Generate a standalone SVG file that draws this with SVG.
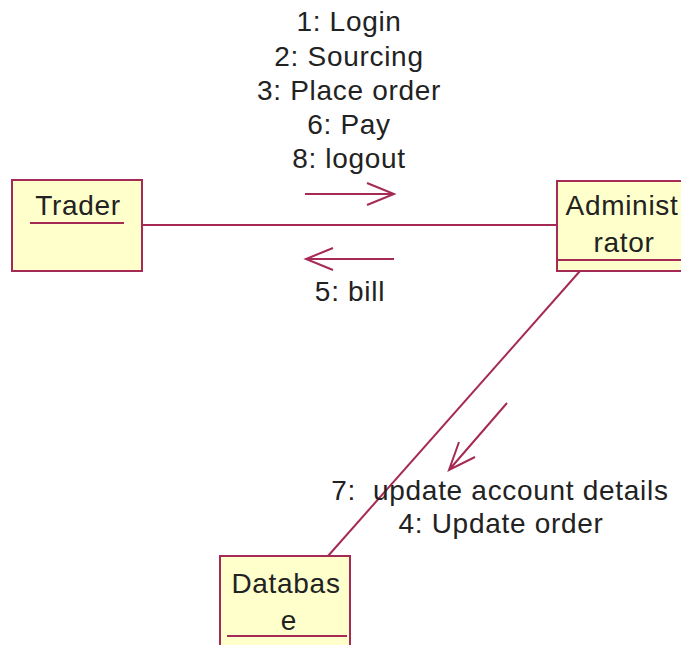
<svg xmlns="http://www.w3.org/2000/svg" width="681" height="645" viewBox="0 0 681 645">
<style>
.box{fill:#FFFFCC;stroke:#A52A55;stroke-width:2}
.ln{stroke:#A52A55;stroke-width:2;fill:none}
.t{font-family:"Liberation Sans",Arial,sans-serif;font-size:28px;letter-spacing:0.7px;fill:#222;text-anchor:middle}
</style>
<rect width="681" height="645" fill="#fff"/>
<g id="connectors">
<line class="ln" x1="142" y1="225" x2="557" y2="225"/>
<line class="ln" x1="580" y1="271" x2="328" y2="556"/>
<path class="ln" d="M305 194 H394 M367 183 L394 194 L367 205"/>
<path class="ln" d="M394 259 H306 M333 248 L306 259 L333 270"/>
<path class="ln" d="M507 403 L449 470 M459 442 L449 470 L475 457"/>
<text class="t" x="349" y="31">1: Login</text>
<text class="t" x="349" y="66">2: Sourcing</text>
<text class="t" x="349" y="100">3: Place order</text>
<text class="t" x="349" y="134">6: Pay</text>
<text class="t" x="349" y="168">8: logout</text>
<text class="t" x="350" y="301">5: bill</text>
<text class="t" x="500" y="500" xml:space="preserve">7:  update account details</text>
<text class="t" x="501" y="533">4: Update order</text>
</g>
<g id="trader">
<rect class="box" x="12" y="180" width="130" height="91"/>
<line class="ln" x1="30" y1="223" x2="124" y2="223"/>
<text class="t" x="78" y="215">Trader</text>
</g>
<g id="administrator">
<rect class="box" x="557" y="181" width="130" height="90"/>
<line class="ln" x1="557" y1="260" x2="687" y2="260"/>
<text class="t" x="622" y="215">Administ</text>
<text class="t" x="624" y="252">rator</text>
</g>
<g id="database">
<rect class="box" x="220" y="556" width="130" height="100"/>
<line class="ln" x1="227" y1="636" x2="347" y2="636"/>
<text class="t" x="286" y="593">Databas</text>
<text class="t" x="289" y="630">e</text>
</g>
</svg>
